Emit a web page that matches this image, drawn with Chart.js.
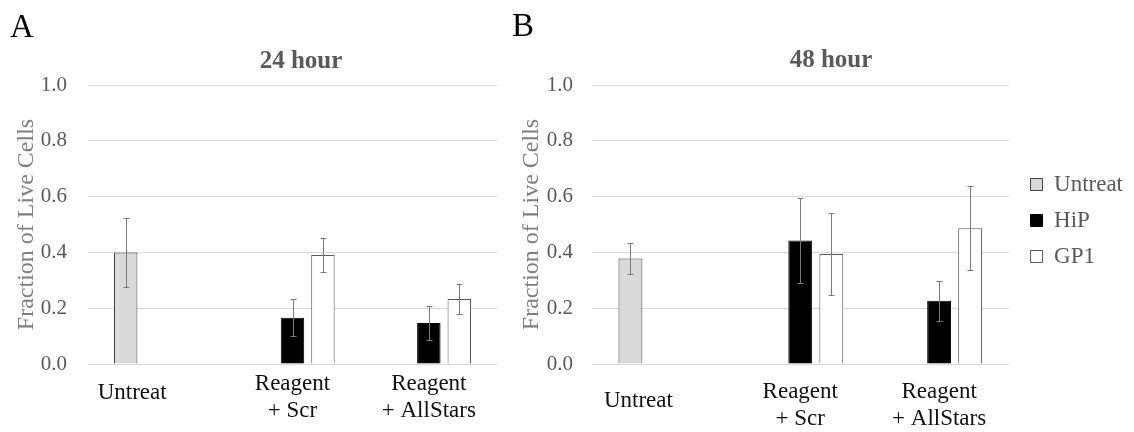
<!DOCTYPE html>
<html lang="en">
<head>
    <meta charset="UTF-8">
    <title>Fraction of Live Cells - 24 and 48 hour</title>
    <script src="https://cdn.jsdelivr.net/npm/chart.js"></script>
    <style>
        body {
            margin: 0;
            background-color: #fff;
        }
        #wrap {
            position: relative;
            width: 1134px;
            height: 432px;
        }
        #chart24 {
            position: absolute;
            left: 0;
            top: 0;
        }
        #chart48 {
            position: absolute;
            left: 505px;
            top: 0;
        }
    </style>
</head>
<body>
    <div id="wrap">
        <canvas id="chart24" width="505" height="432"></canvas>
        <canvas id="chart48" width="629" height="432"></canvas>
    </div>

    <script>
        // categories on the x axis (multi-line labels)
        const categories = [['Untreat'], ['Reagent', '+ Scr'], ['Reagent', '+ AllStars']];
        const seriesNames = ['Untreat', 'HiP', 'GP1'];

        // 24 hour values and error bar half-widths
        const untreat24 = [0.400, null, null];
        const untreat24Err = [0.124, null, null];
        const hip24 = [null, 0.166, 0.147];
        const hip24Err = [null, 0.067, 0.061];
        const gp124 = [null, 0.391, 0.233];
        const gp124Err = [null, 0.061, 0.054];

        // 48 hour values and error bar half-widths
        const untreat48 = [0.378, null, null];
        const untreat48Err = [0.055, null, null];
        const hip48 = [null, 0.443, 0.227];
        const hip48Err = [null, 0.151, 0.072];
        const gp148 = [null, 0.394, 0.487];
        const gp148Err = [null, 0.146, 0.151];

        const yTickStep = 0.2;

        const serif = "'Liberation Serif', 'Times New Roman', serif";

        function makeDatasets(vals, errs) {
            const fills = ['#d9d9d9', '#000000', '#ffffff'];
            const borders = ['#404040', '#000000', '#595959'];
            return seriesNames.map((name, i) => ({
                label: name,
                data: vals[i],
                errors: errs[i],
                backgroundColor: fills[i],
                borderColor: borders[i],
                borderWidth: 1
            }));
        }

        // error bars drawn from the y scale
        const errorBars = {
            id: 'errorBars',
            afterDatasetsDraw(chart) {
                const ctx = chart.ctx;
                const y = chart.scales.y;
                ctx.save();
                ctx.strokeStyle = '#7a7a7a';
                ctx.lineWidth = 1;
                chart.data.datasets.forEach((ds, di) => {
                    const meta = chart.getDatasetMeta(di);
                    ds.data.forEach((v, i) => {
                        const e = ds.errors[i];
                        if (v == null || e == null) return;
                        const bx = Math.round(meta.data[i].x) + 0.5;
                        const top = Math.round(y.getPixelForValue(v + e)) + 0.5;
                        const bot = Math.round(y.getPixelForValue(v - e)) + 0.5;
                        ctx.beginPath();
                        ctx.moveTo(bx, top);
                        ctx.lineTo(bx, bot);
                        ctx.moveTo(bx - 3, top);
                        ctx.lineTo(bx + 3, top);
                        ctx.moveTo(bx - 3, bot);
                        ctx.lineTo(bx + 3, bot);
                        ctx.stroke();
                    });
                });
                ctx.restore();
            }
        };

        // panel letter, chart title and category labels
        const panelText = {
            id: 'panelText',
            afterLayout(chart, args, o) {
                // small nudge of the legend block to sit where the original had it
                if (chart.legend && o.legendShift) {
                    chart.legend.left += o.legendShift[0];
                    chart.legend.right += o.legendShift[0];
                    chart.legend.top += o.legendShift[1];
                    chart.legend.bottom += o.legendShift[1];
                }
            },
            afterDraw(chart, args, o) {
                const ctx = chart.ctx;
                const area = chart.chartArea;
                const x = chart.scales.x;
                ctx.save();
                ctx.textBaseline = 'alphabetic';

                ctx.fillStyle = '#000';
                ctx.textAlign = 'left';
                ctx.font = '33px ' + serif;
                ctx.fillText(o.letter, o.letterX, o.letterY);

                ctx.fillStyle = '#595959';
                ctx.textAlign = 'center';
                ctx.font = 'bold 25px ' + serif;
                ctx.fillText(o.title, o.titleX, o.titleY);

                ctx.fillStyle = '#111';
                ctx.font = '23px ' + serif;
                categories.forEach((lines, i) => {
                    const cx = x.getPixelForValue(i) + o.labelDx[i];
                    lines.forEach((line, k) => {
                        ctx.fillText(line, cx, area.bottom + o.labelTop + o.labelDy[i] + k * 27);
                    });
                });
                ctx.restore();
            }
        };

        function makeChart(id, datasets, opts) {
            const ctx = document.getElementById(id).getContext('2d');
            return new Chart(ctx, {
                type: 'bar',
                data: {
                    labels: categories,
                    datasets: datasets
                },
                plugins: [errorBars, panelText],
                options: {
                    responsive: false,
                    animation: false,
                    devicePixelRatio: 1,
                    categoryPercentage: 0.67,
                    barPercentage: 0.77,
                    layout: {
                        padding: { left: 0, top: 85, right: opts.padRight, bottom: 68 }
                    },
                    scales: {
                        x: {
                            display: false
                        },
                        y: {
                            min: 0,
                            max: 1,
                            afterFit(scale) { scale.width = opts.axisWidth; },
                            border: { display: false },
                            grid: { color: '#d9d9d9', drawTicks: false },
                            ticks: {
                                stepSize: yTickStep,
                                padding: opts.tickPad,
                                color: '#595959',
                                font: { family: serif, size: 21 },
                                callback: v => v.toFixed(1)
                            },
                            title: {
                                display: true,
                                text: 'Fraction of Live Cells',
                                color: '#7f7f7f',
                                font: { family: serif, size: 24 },
                                padding: { top: 12, bottom: 0 }
                            }
                        }
                    },
                    plugins: {
                        legend: opts.legend,
                        tooltip: { enabled: false },
                        panelText: opts.text
                    }
                }
            });
        }

        makeChart('chart24', makeDatasets([untreat24, hip24, gp124], [untreat24Err, hip24Err, gp124Err]), {
            padRight: 8,
            axisWidth: 88,
            tickPad: 21,
            legend: { display: false },
            text: {
                letter: 'A', letterX: 10, letterY: 37,
                title: '24 hour', titleX: 301, titleY: 68,
                labelTop: 26, labelDx: [-24, 0, 0], labelDy: [9, 0, 0]
            }
        });

        makeChart('chart48', makeDatasets([untreat48, hip48, gp148], [untreat48Err, hip48Err, gp148Err]), {
            padRight: 10,
            axisWidth: 87,
            tickPad: 19,
            legend: {
                display: true,
                position: 'right',
                labels: {
                    boxWidth: 12,
                    boxHeight: 12,
                    padding: 13,
                    color: '#595959',
                    font: { family: serif, size: 23 }
                }
            },
            text: {
                letter: 'B', letterX: 7, letterY: 36,
                title: '48 hour', titleX: 326, titleY: 67,
                labelTop: 34, labelDx: [-23, 0, 0], labelDy: [9, 0, 0],
                legendShift: [9, -4]
            }
        });
    </script>
</body>
</html>
